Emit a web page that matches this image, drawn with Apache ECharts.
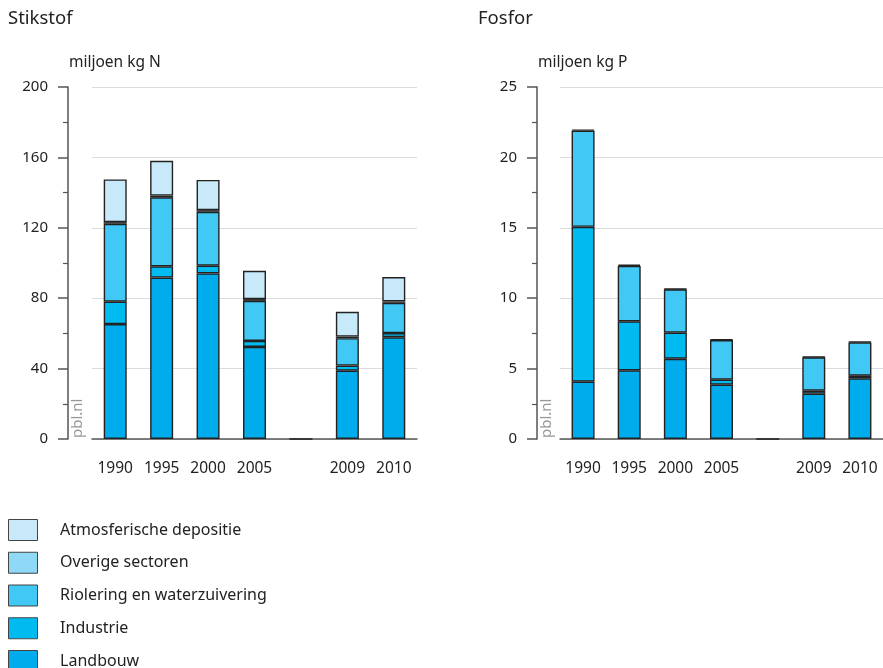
<!DOCTYPE html>
<html>
<head>
<meta charset="utf-8">
<script src="https://cdn.jsdelivr.net/npm/echarts@6/dist/echarts.min.js"></script>
<style>
html,body{margin:0;padding:0;background:#fff;}
#c{width:883px;height:668px;}
</style>
</head>
<body>
<div id="c"></div>
<script>
const categories = ['1990','1995','2000','2005','','2009','2010'];
const seriesNames = ['Atmosferische depositie','Overige sectoren','Riolering en waterzuivering','Industrie','Landbouw'];

// Stikstof (miljoen kg N)
const nLandbouw   = [65.3, 91.7, 94.1, 52.3, 0, 38.8, 57.8];
const nIndustrie  = [12.7, 6.4, 4.4, 3.4, null, 2.9, 2.4];
const nRiolering  = [44.3, 39.2, 30.6, 22.8, null, 15.6, 17.2];
const nOverige    = [0.9, 1.0, 0.9, 1.0, null, 0.9, 0.8];
const nAtmos      = [24.3, 19.8, 17.2, 16.1, null, 14.1, 13.8];

// Fosfor (miljoen kg P)
const pLandbouw   = [4.07, 4.88, 5.70, 3.86, 0, 3.22, 4.31];
const pIndustrie  = [11.0, 3.48, 1.85, 0.35, null, 0.21, 0.19];
const pRiolering  = [6.83, 3.93, 3.08, 2.82, null, 2.37, 2.36];
const pOverige    = [0.07, 0.09, 0.05, 0.05, null, 0.05, 0.05];
const pAtmos      = [null, null, null, null, null, null, null];

const nTicks = {min:0, max:200, interval:40};
const pTicks = {min:0, max:25, interval:5};

const colors = {
  'Atmosferische depositie':'#c7e9f9',
  'Overige sectoren':'#8fd8f6',
  'Riolering en waterzuivering':'#41c8f4',
  'Industrie':'#00bbf0',
  'Landbouw':'#00acec'
};

const FONT = 'Noto Sans';
const chart = echarts.init(document.getElementById('c'), null, {renderer:'canvas'});

function mkSeries(name, data, idx, stack){
  return {
    name: name, type:'bar', stack: stack, data: data,
    xAxisIndex: idx, yAxisIndex: idx, barWidth: 23,
    itemStyle:{color: colors[name], borderColor:'#222', borderWidth:1.4},
    emphasis:{disabled:true}, animation:false
  };
}

function mkX(idx){
  return {
    type:'category', gridIndex: idx, data: categories,
    axisLine:{show:true, lineStyle:{color:'#555', width:1.5}},
    axisTick:{show:false},
    axisLabel:{color:'#222', fontSize:15.5, fontFamily:FONT, margin:22, interval:0}
  };
}
function mkY(idx, t, offset){
  return {
    type:'value', gridIndex: idx, min:t.min, max:t.max, interval:t.interval,
    offset: offset,
    axisLine:{show:true, lineStyle:{color:'#555', width:1.5}},
    axisTick:{show:true, length:10, lineStyle:{color:'#555', width:1.5}},
    minorTick:{show:true, splitNumber:2, length:5, lineStyle:{color:'#555', width:1.2}},
    splitLine:{show:true, lineStyle:{color:'#dcdcdc', width:1}},
    axisLabel:{color:'#222', fontSize:15, fontFamily:FONT, margin:20}
  };
}

const series = [];
const nData = [nLandbouw, nIndustrie, nRiolering, nOverige, nAtmos];
const pData = [pLandbouw, pIndustrie, pRiolering, pOverige, pAtmos];
const stackOrder = ['Landbouw','Industrie','Riolering en waterzuivering','Overige sectoren','Atmosferische depositie'];
stackOrder.forEach((nm,i)=>{ series.push(mkSeries(nm, nData[i], 0, 'N')); });
stackOrder.forEach((nm,i)=>{ series.push(mkSeries(nm, pData[i], 1, 'P')); });

chart.setOption({
  animation:false,
  textStyle:{fontFamily:FONT},
  grid:[
    {left:92, top:87, width:325, height:352},
    {left:560, top:87, width:326, height:352}
  ],
  xAxis:[mkX(0), mkX(1)],
  yAxis:[mkY(0, nTicks, 24), mkY(1, pTicks, 23)],
  legend:{
    data: seriesNames, orient:'vertical', left:8, top:519, height:220, padding:0,
    itemWidth:29, itemHeight:21, itemGap:10.75, selectedMode:false,
    icon:'rect', align:'left',
    itemStyle:{borderColor:'#444', borderWidth:1},
    formatter: function(n){ return '\u2002\u2002\u200a' + n; },
    textStyle:{fontSize:16, color:'#222', fontFamily:FONT}
  },
  graphic:[
    {type:'text', left:8, top:9, style:{text:'Stikstof', fontSize:18.5, fill:'#222', fontFamily:FONT}},
    {type:'text', left:478, top:9, style:{text:'Fosfor', fontSize:18.5, fill:'#222', fontFamily:FONT}},
    {type:'text', left:69, top:55, style:{text:'miljoen kg N', fontSize:15.5, fill:'#222', fontFamily:FONT}},
    {type:'text', left:538, top:55, style:{text:'miljoen kg P', fontSize:15.5, fill:'#222', fontFamily:FONT}},
    {type:'text', x:85, y:438, rotation:Math.PI/2, style:{text:'pbl.nl', fontSize:15, fill:'#999', fontFamily:FONT, align:'left', verticalAlign:'bottom'}, originX:0, originY:0},
    {type:'text', x:554, y:438, rotation:Math.PI/2, style:{text:'pbl.nl', fontSize:15, fill:'#999', fontFamily:FONT, align:'left', verticalAlign:'bottom'}, originX:0, originY:0}
  ],
  series: series
});
</script>
</body>
</html>
